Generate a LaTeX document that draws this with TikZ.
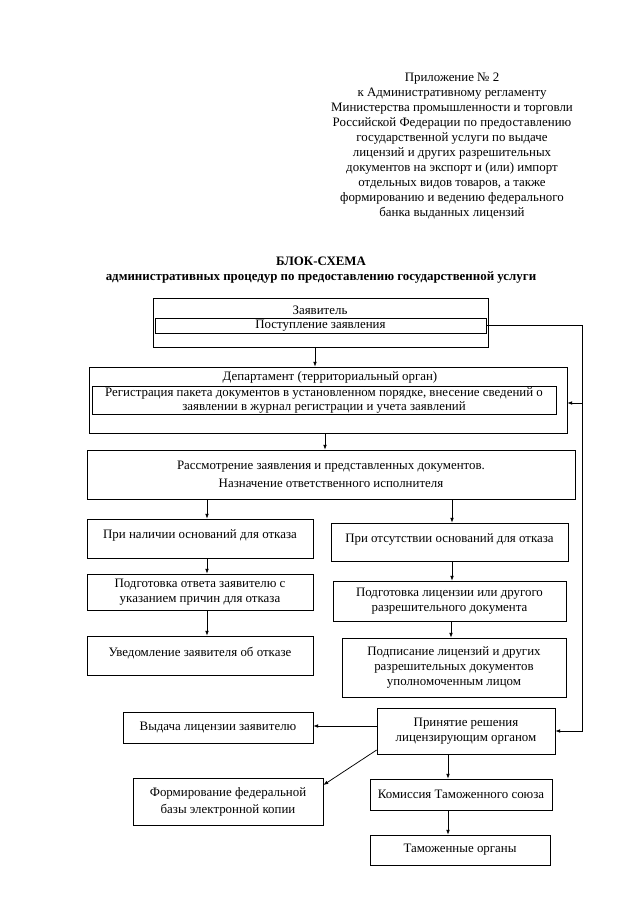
\documentclass[tikz,border=0pt]{standalone}
\usepackage{fontspec}
\setmainfont{Liberation Serif}
\usetikzlibrary{arrows.meta}

\begin{document}
\begin{tikzpicture}[
    x=0.93pt, y=-0.93pt,
    box/.style  = {draw, line width=0.7pt, inner sep=0pt, align=center, font=\fontsize{12}{14}\selectfont},
    size/.style 2 args = {minimum width=#1*0.93pt, minimum height=#2*0.93pt},
    txt/.style  = {align=center, inner sep=0pt, font=\fontsize{12}{14}\selectfont},
    arr/.style  = {-{Latex[length=4.5pt, width=3.5pt]}, line width=0.7pt},
    lift/.style = {text depth=#1}
  ]
  \useasboundingbox (0,0) rectangle (640,905);

  % header
  \node[txt, font=\fontsize{12}{13.95}\selectfont] (appx) at (452,146) {Приложение № 2\\ к Административному регламенту\\ Министерства промышленности и торговли\\ Российской Федерации по предоставлению\\ государственной услуги по выдаче\\ лицензий и других разрешительных\\ документов на экспорт и (или) импорт\\ отдельных видов товаров, а также\\ формированию и ведению федерального\\ банка выданных лицензий};
  \node[txt, font=\bfseries\fontsize{12}{14.5}\selectfont] (title) at (321,270) {БЛОК-СХЕМА\\ административных процедур по предоставлению государственной услуги};

  % upper blocks
  \node[box, size={335}{49}] (zayav) at (320.5,322.5) {};
  \node[txt] (zayavt) at (320,310) {Заявитель};
  \node[box, size={331}{15}] (post) at (320.5,325.5) {Поступление заявления};
  \node[box, size={478}{66}] (dep) at (328,400) {};
  \node[txt] (dept) at (330,377) {Департамент (территориальный орган)};
  \node[box, size={464}{28}, font=\fontsize{12}{13}\selectfont] (reg) at (324,400) {Регистрация пакета документов в установленном порядке, внесение сведений о\\ заявлении в журнал регистрации и учета заявлений};
  \node[box, size={488}{49}] (ras) at (331,474.5) {Рассмотрение заявления и представленных документов.\\[3pt] Назначение ответственного исполнителя};

  % left branch
  \node[box, size={226}{39}, lift=8pt] (nal) at (200,538.5) {При наличии оснований для отказа};
  \node[box, size={226}{36}] (otv) at (200,592) {Подготовка ответа заявителю с\\ указанием причин для отказа};
  \node[box, size={226}{39}, lift=6pt] (uved) at (200,655.5) {Уведомление заявителя об отказе};

  % right branch
  \node[box, size={237}{38}, lift=6.5pt] (ots) at (449.5,542) {При отсутствии оснований для отказа};
  \node[box, size={233}{40}] (lic) at (449.5,601) {Подготовка лицензии или другого\\ разрешительного документа};
  \node[box, size={224}{59}] (podp) at (454,667.5) {Подписание лицензий и других\\ разрешительных документов\\ уполномоченным лицом};

  % decision and outputs
  \node[box, size={178}{46}] (prin) at (466,731) {Принятие решения\\ лицензирующим органом};
  \node[box, size={190}{31}] (vyd) at (218,727.5) {Выдача лицензии заявителю};
  \node[box, size={190}{47}] (form) at (228,801.5) {Формирование федеральной\\[2pt] базы электронной копии};
  \node[box, size={182}{31}] (kom) at (461,794.5) {Комиссия Таможенного союза};
  \node[box, size={180}{30}] (tam) at (460,850) {Таможенные органы};

  % arrows
  \draw[arr] (zayav.south -| 315,0) -- (dep.north -| 315,0);
  \draw[arr] (dep.south -| 325,0) -- (ras.north -| 325,0);
  \draw[arr] (ras.south -| 207,0) -- (nal.north -| 207,0);
  \draw[arr] (ras.south -| 452,0) -- (ots.north -| 452,0);
  \draw[arr] (nal.south -| 207,0) -- (otv.north -| 207,0);
  \draw[arr] (otv.south -| 207,0) -- (uved.north -| 207,0);
  \draw[arr] (ots.south -| 452,0) -- (lic.north -| 452,0);
  \draw[arr] (lic.south -| 451,0) -- (podp.north -| 451,0);
  \draw[arr] (prin.west |- 0,726) -- (vyd.east |- 0,726);
  \draw[arr] (prin.west |- 0,750) -- (form.east |- 0,785);
  \draw[arr] (prin.south -| 448,0) -- (kom.north -| 448,0);
  \draw[arr] (kom.south -| 448,0) -- (tam.north -| 448,0);

  % feedback line on the right
  \coordinate (fb) at (582,0);
  \draw[arr] (post.east) -| (fb |- prin.east) -- (prin.east);
  \draw[arr] (fb |- 0,403) -- (dep.east |- 0,403);
\end{tikzpicture}
\end{document}
